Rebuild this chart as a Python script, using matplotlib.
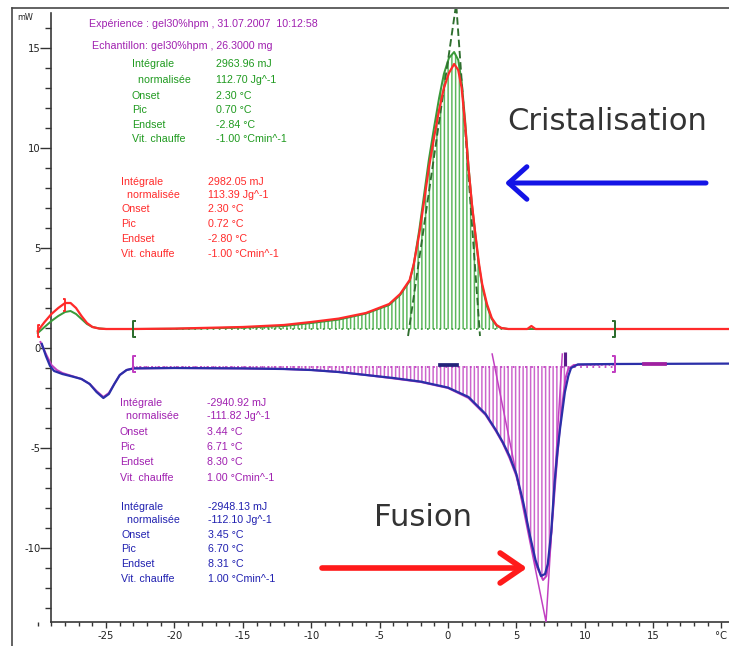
import numpy as np
import matplotlib
matplotlib.use("Agg")
import matplotlib.pyplot as plt
from matplotlib.lines import Line2D
from matplotlib.path import Path
from matplotlib.ticker import MultipleLocator

# ---------------- data ----------------
cris_red_T = [-30.0, -29.5, -29.0, -28.5, -28.0, -27.6, -27.2, -26.8, -26.4, -26.0, -25.5, -25.0,
              -23.0, -20.0, -15.0, -12.0, -10.0, -8.0, -6.0, -4.3, -3.5, -2.8, -2.5, -2.1, -1.8,
              -1.4, -1.0, -0.65, -0.3, 0.07, 0.45, 0.75, 1.0, 1.25, 1.5, 1.75, 2.0, 2.25, 2.5,
              2.85, 3.2, 3.55, 3.9, 4.4, 5.8, 6.1, 6.4, 12.2, 20.6]
cris_red_mW = [0.85, 1.3, 1.7, 2.0, 2.25, 2.25, 2.0, 1.6, 1.25, 1.05, 0.97, 0.95,
               0.95, 0.97, 1.05, 1.15, 1.3, 1.47, 1.75, 2.2, 2.7, 3.4, 4.2, 5.7, 7.1,
               9.0, 10.6, 11.9, 13.0, 13.75, 14.2, 13.9, 13.0, 11.2, 9.0, 7.2, 5.7, 4.3, 3.2,
               2.2, 1.5, 1.15, 1.0, 0.95, 0.95, 1.1, 0.95, 0.95, 0.95]

cris_green_T = [-30.0, -29.5, -29.0, -28.5, -28.0, -27.6, -27.2, -26.8, -26.4, -26.0, -25.5, -25.0,
                -23.0, -20.0, -15.0, -12.0, -10.0, -8.0, -6.0, -4.3, -3.5, -2.8, -2.5, -2.1, -1.8,
                -1.4, -1.0, -0.65, -0.3, 0.07, 0.45, 0.75, 1.0, 1.25, 1.5, 1.75, 2.0, 2.25, 2.5,
                2.85, 3.2, 3.55, 3.9, 4.4, 12.2]
cris_green_mW = [0.75, 1.05, 1.35, 1.6, 1.8, 1.85, 1.7, 1.45, 1.2, 1.05, 0.98, 0.95,
                 0.95, 0.96, 1.02, 1.1, 1.25, 1.42, 1.72, 2.15, 2.65, 3.35, 4.2, 5.9, 7.4,
                 9.4, 11.1, 12.5, 13.7, 14.5, 14.8, 14.4, 13.3, 11.4, 9.1, 7.2, 5.7, 4.2, 3.1,
                 2.1, 1.45, 1.12, 1.0, 0.95, 0.95]

fus_blue_T = [-29.7, -29.4, -29.1, -28.8, -28.2, -27.5, -26.8, -26.2, -25.7, -25.2, -24.8, -24.4,
              -24.0, -23.5, -23.0, -20.0, -15.0, -12.0, -10.0, -8.0, -6.0, -4.0, -2.0, 0.0, 1.5,
              2.75, 3.5, 4.0, 4.5, 5.0, 5.5, 6.0, 6.4, 6.8, 7.1, 7.3, 7.55, 7.8, 8.0, 8.2, 8.55,
              8.8, 9.0, 9.5, 12.2, 20.6]
fus_blue_mW = [0.2, -0.4, -0.9, -1.15, -1.3, -1.42, -1.55, -1.8, -2.2, -2.5, -2.3, -1.8,
               -1.35, -1.1, -1.02, -1.0, -1.02, -1.05, -1.1, -1.2, -1.35, -1.5, -1.68, -1.98, -2.45,
               -3.3, -4.1, -4.7, -5.4, -6.3, -7.7, -9.4, -10.6, -11.4, -11.3, -10.8, -9.2, -6.7, -5.2, -4.0, -2.2,
               -1.4, -1.0, -0.82, -0.8, -0.78]

fus_purple_T = [-29.8, -29.4, -29.0, -28.6, -28.2, -27.5, -26.8, -26.2, -25.7, -25.2, -24.8, -24.4,
                -24.0, -23.5, -23.0, -20.0, -15.0, -12.0, -10.0, -8.0, -6.0, -4.0, -2.0, 0.0, 1.5,
                2.75, 3.5, 4.0, 4.5, 5.0, 5.5, 6.0, 6.4, 6.95, 7.2, 7.45, 7.7, 7.95, 8.15, 8.4,
                8.6, 8.8, 9.2, 12.2, 16.0]
fus_purple_mW = [0.3, -0.3, -0.85, -1.1, -1.25, -1.4, -1.55, -1.8, -2.15, -2.45, -2.25, -1.8,
                 -1.35, -1.1, -1.02, -1.0, -1.02, -1.05, -1.1, -1.2, -1.35, -1.52, -1.7, -2.0, -2.5,
                 -3.35, -4.15, -4.75, -5.5, -6.4, -7.8, -9.5, -10.8, -11.6, -11.4, -10.2, -8.0, -5.8, -4.2, -2.6,
                 -1.5, -1.05, -0.85, -0.8, -0.8]

cris_baseline = 0.95
fus_baseline = -0.9
integ_limits = [-23.0, 12.2]

cris_tangent_T = [-2.92, 0.60, 2.34]
cris_tangent_mW = [0.60, 17.2, 0.60]
fus_tangent_T = [3.23, 7.17, 8.36]
fus_tangent_mW = [-0.30, -13.7, -0.30]

fus_blue_dash_T = [-0.6, 0.65]
fus_blue_dash_mW = [-0.85, -0.85]
fus_purple_dash_T = [14.3, 15.9]
fus_purple_dash_mW = [-0.78, -0.78]

x_ticks = [-25, -20, -15, -10, -5, 0, 5, 10, 15, 20]
x_ticklabels = ['-25', '-20', '-15', '-10', '-5', '0', '5', '10', '15', '°C']
y_ticks = [-10, -5, 0, 5, 10, 15]
y_ticklabels = ['-10', '-5', '0', '5', '10', '15']

header_lines = ["Expérience : gel30%hpm , 31.07.2007  10:12:58",
                "Echantillon: gel30%hpm , 26.3000 mg"]
row_labels = ["Intégrale", "  normalisée", "Onset", "Pic", "Endset", "Vit. chauffe"]
green_values = ["2963.96 mJ", "112.70 Jg^-1", "2.30 °C", "0.70 °C", "-2.84 °C", "-1.00 °Cmin^-1"]
red_values = ["2982.05 mJ", "113.39 Jg^-1", "2.30 °C", "0.72 °C", "-2.80 °C", "-1.00 °Cmin^-1"]
purple_values = ["-2940.92 mJ", "-111.82 Jg^-1", "3.44 °C", "6.71 °C", "8.30 °C", "1.00 °Cmin^-1"]
blue_values = ["-2948.13 mJ", "-112.10 Jg^-1", "3.45 °C", "6.70 °C", "8.31 °C", "1.00 °Cmin^-1"]

# ---------------- style ----------------
W, H, DPI = 729, 646, 90
RED = '#ff2a2a'
GREEN = '#3a9a3a'
GREEN_TXT = '#1f9a1f'
GREEN_HATCH = '#5cb85c'
DKGREEN = '#2e6e2e'
BLUE = '#2b2fa8'
PURPLE = '#c13fc1'
PURPLE_TXT = '#a020b0'
PURPLE_HATCH = '#cc66cc'
BLUE_TXT = '#2020b0'
AXC = '#333333'

plt.rcParams['hatch.linewidth'] = 1.2
plt.rcParams['font.family'] = ['DejaVu Sans']

fig = plt.figure(figsize=(W / DPI, H / DPI), dpi=DPI)
fig.patch.set_facecolor('white')


def fx(x):
    return x / W


def fy(y):
    return 1 - y / H


ax_left, ax_right, ax_top, ax_bottom = 35, 729, 9, 622
ax = fig.add_axes([fx(ax_left), fy(ax_bottom), (ax_right - ax_left) / W, (ax_bottom - ax_top) / H])
ax.set_facecolor('none')
ax.set_xlim(-30.2, 20.55)
ax.set_ylim(-13.7, 16.95)

# hatched integration areas
T = np.array(cris_green_T)
Y = np.array(cris_green_mW)
ax.fill_between(T, cris_baseline, Y, where=(T >= integ_limits[0]) & (T <= integ_limits[1]),
                facecolor='none', edgecolor=GREEN_HATCH, linewidth=0, hatch='||||', zorder=1)
Tp = np.array(fus_purple_T)
Yp = np.array(fus_purple_mW)
ax.fill_between(Tp, fus_baseline, Yp, where=(Tp >= integ_limits[0]) & (Tp <= integ_limits[1]),
                facecolor='none', edgecolor=PURPLE_HATCH, linewidth=0, hatch='||||', zorder=1)

# integration baselines (dotted)
ax.plot(integ_limits, [cris_baseline, cris_baseline], color=GREEN, lw=1.4, ls=(0, (1, 2.5)), zorder=2)
ax.plot(integ_limits, [fus_baseline - 0.05, fus_baseline - 0.05], color=PURPLE, lw=1.4, ls=(0, (1, 2.5)), zorder=2)

# secondary curves
ax.plot(cris_green_T, cris_green_mW, color=GREEN, lw=1.6, zorder=3)
ax.plot(fus_purple_T, fus_purple_mW, color=PURPLE, lw=1.6, zorder=3)

# tangents
ax.plot(cris_tangent_T, cris_tangent_mW, color=DKGREEN, lw=1.5, ls=(0, (4, 2)), zorder=4)
ax.plot(fus_tangent_T, fus_tangent_mW, color=PURPLE, lw=1.2, zorder=4)

# main curves
ax.plot(cris_red_T, cris_red_mW, color=RED, lw=1.8, zorder=5)
ax.plot(fus_blue_T, fus_blue_mW, color=BLUE, lw=1.8, zorder=5)
ax.plot(fus_blue_dash_T, fus_blue_dash_mW, color='#23237a', lw=3, zorder=6)
ax.plot(fus_purple_dash_T, fus_purple_dash_mW, color='#a020a0', lw=3, zorder=6)

# bracket markers
lb = Path([(0.35, 1), (0, 1), (0, -1), (0.35, -1)], [Path.MOVETO, Path.LINETO, Path.LINETO, Path.LINETO])
rb = Path([(-0.35, 1), (0, 1), (0, -1), (-0.35, -1)], [Path.MOVETO, Path.LINETO, Path.LINETO, Path.LINETO])
ax.plot([integ_limits[0]], [cris_baseline], marker=lb, ms=13, mew=1.6, mec=DKGREEN, mfc='none', ls='none', zorder=7)
ax.plot([integ_limits[1]], [cris_baseline], marker=rb, ms=13, mew=1.6, mec=DKGREEN, mfc='none', ls='none', zorder=7)
ax.plot([integ_limits[0]], [-0.78], marker=lb, ms=13, mew=1.6, mec=PURPLE, mfc='none', ls='none', zorder=7)
ax.plot([integ_limits[1]], [-0.78], marker=rb, ms=13, mew=1.6, mec=PURPLE, mfc='none', ls='none', zorder=7)
ax.plot([cris_red_T[0]], [cris_red_mW[0]], marker=lb, ms=9, mew=1.5, mec=RED, mfc='none', ls='none', zorder=7)
ax.plot([-28.0], [2.15], marker=rb, ms=9, mew=1.5, mec=RED, mfc='none', ls='none', zorder=7)
ax.plot([8.55], [-0.55], marker='|', ms=11, mew=2.5, mec='#5a1a8a', ls='none', zorder=7)

# axes styling
for s in ['top', 'right']:
    ax.spines[s].set_visible(False)
ax.spines['left'].set_position(('data', -29))
ax.spines['left'].set_bounds(-13.7, 16.75)
ax.spines['bottom'].set_bounds(-29, 20.55)
for s in ['left', 'bottom']:
    ax.spines[s].set_color(AXC)
    ax.spines[s].set_linewidth(1.3)
ax.set_xticks(x_ticks)
ax.set_xticklabels(x_ticklabels)
ax.set_yticks(y_ticks)
ax.set_yticklabels(y_ticklabels)
ax.xaxis.set_minor_locator(MultipleLocator(1))
ax.yaxis.set_minor_locator(MultipleLocator(1))
ax.tick_params(axis='x', which='major', length=5, width=1.1, color=AXC, labelsize=8, labelcolor='#222', pad=2)
ax.tick_params(axis='x', which='minor', length=3.2, width=1.1, color=AXC)
ax.tick_params(axis='y', which='major', length=8.5, width=1.1, color=AXC, labelsize=8, labelcolor='#222', pad=0)
ax.tick_params(axis='y', which='minor', length=4.5, width=1.1, color=AXC)

# outer frame
fig.add_artist(Line2D([fx(12), fx(12)], [fy(8), fy(646)], color='#444444', lw=1.3))
fig.add_artist(Line2D([fx(12), fx(729)], [fy(8), fy(8)], color='#444444', lw=1.3))

# unit label
fig.text(fx(25), fy(18), 'mW', fontsize=6.5, color='#222', ha='center', va='center')

# header texts
small = dict(fontsize=8.5, family=['Liberation Sans', 'DejaVu Sans'], va='center')
fig.text(fx(89), fy(24), header_lines[0], color=PURPLE_TXT, **small)
fig.text(fx(92), fy(46), header_lines[1], color=PURPLE_TXT, **small)


def block(values, color, xl, xv, ys):
    for lab, val, y in zip(row_labels, values, ys):
        fig.text(fx(xl), fy(y), lab, color=color, **small)
        fig.text(fx(xv), fy(y), val, color=color, **small)


block(green_values, GREEN_TXT, 132, 216, [64, 80, 96, 110, 125, 139])
block(red_values, RED, 121, 208, [182, 195, 209, 224, 239, 254])
block(purple_values, PURPLE_TXT, 120, 207, [403, 416, 432, 447, 462, 478])
block(blue_values, BLUE_TXT, 121, 208, [507, 520, 535, 549, 564, 579])

# big labels
fig.text(fx(607), fy(121), 'Cristalisation', fontsize=24.5, color='#333333', ha='center', va='center')
fig.text(fx(423), fy(517), 'Fusion', fontsize=24.5, color='#333333', ha='center', va='center')

# arrows
ax.annotate('', xy=(505, H - 183), xycoords='figure pixels', xytext=(706, H - 183), textcoords='figure pixels',
            arrowprops=dict(arrowstyle='->,head_length=1.45,head_width=1.3', lw=4, color='#1414e6',
                            shrinkA=0, shrinkB=0, capstyle='round', joinstyle='round'), annotation_clip=False)
ax.annotate('', xy=(527, H - 568), xycoords='figure pixels', xytext=(322, H - 568), textcoords='figure pixels',
            arrowprops=dict(arrowstyle='->,head_length=1.75,head_width=1.2', lw=4.5, color='#ff1a1a',
                            shrinkA=0, shrinkB=0, capstyle='round', joinstyle='round'), annotation_clip=False)

fig.savefig('out.png', dpi=DPI)
